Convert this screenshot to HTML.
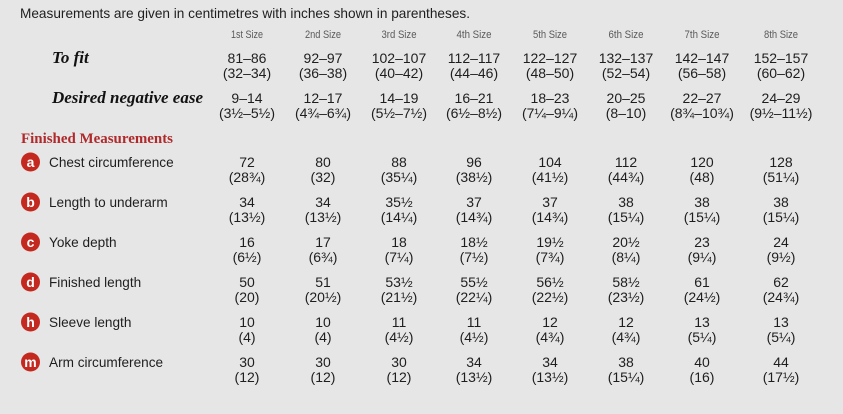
<!DOCTYPE html>
<html>
<head>
<meta charset="utf-8">
<style>
html,body{margin:0;padding:0;background:#e6e6e6;}
svg{display:block;}
.t{font-family:"Liberation Sans",Arial,sans-serif;font-size:14px;fill:#1e1e1e;}
.v{font-family:"Liberation Sans",Arial,sans-serif;font-size:14px;fill:#1e1e1e;text-anchor:middle;}
.h{font-family:"Liberation Sans",Arial,sans-serif;font-size:11px;fill:#5a5a5a;text-anchor:middle;}
.lab{font-family:"Liberation Sans",Arial,sans-serif;font-size:13.6px;fill:#1e1e1e;}
.ser{font-family:"Liberation Serif","Times New Roman",serif;font-size:17px;font-weight:bold;font-style:italic;fill:#111;}
.red{font-family:"Liberation Serif","Times New Roman",serif;font-size:15px;font-weight:bold;fill:#b02a2c;}
.ic{font-family:"Liberation Sans",Arial,sans-serif;font-size:14px;font-weight:bold;fill:#fff;text-anchor:middle;}
</style>
</head>
<body>
<svg width="843" height="414" viewBox="0 0 843 414" xmlns="http://www.w3.org/2000/svg">
<rect width="843" height="414" fill="#e6e6e6"/>
<text class="t" x="20" y="18" textLength="450" lengthAdjust="spacingAndGlyphs">Measurements are given in centimetres with inches shown in parentheses.</text>

<!-- headers -->
<g class="h">
<text x="247" y="38" textLength="32" lengthAdjust="spacingAndGlyphs">1st Size</text>
<text x="323" y="38" textLength="36" lengthAdjust="spacingAndGlyphs">2nd Size</text>
<text x="399" y="38" textLength="35" lengthAdjust="spacingAndGlyphs">3rd Size</text>
<text x="474" y="38" textLength="35" lengthAdjust="spacingAndGlyphs">4th Size</text>
<text x="550" y="38" textLength="34" lengthAdjust="spacingAndGlyphs">5th Size</text>
<text x="626" y="38" textLength="35" lengthAdjust="spacingAndGlyphs">6th Size</text>
<text x="702" y="38" textLength="35" lengthAdjust="spacingAndGlyphs">7th Size</text>
<text x="781" y="38" textLength="34" lengthAdjust="spacingAndGlyphs">8th Size</text>
</g>

<text class="ser" x="52" y="63">To fit</text>
<text class="ser" x="52" y="103" textLength="151" lengthAdjust="spacingAndGlyphs">Desired negative ease</text>

<g class="v">
<text x="247" y="63">81–86</text><text x="247" y="78">(32–34)</text>
<text x="323" y="63">92–97</text><text x="323" y="78">(36–38)</text>
<text x="399" y="63">102–107</text><text x="399" y="78">(40–42)</text>
<text x="474" y="63">112–117</text><text x="474" y="78">(44–46)</text>
<text x="550" y="63">122–127</text><text x="550" y="78">(48–50)</text>
<text x="626" y="63">132–137</text><text x="626" y="78">(52–54)</text>
<text x="702" y="63">142–147</text><text x="702" y="78">(56–58)</text>
<text x="781" y="63">152–157</text><text x="781" y="78">(60–62)</text>

<text x="247" y="103">9–14</text><text x="247" y="118">(3½–5½)</text>
<text x="323" y="103">12–17</text><text x="323" y="118">(4¾–6¾)</text>
<text x="399" y="103">14–19</text><text x="399" y="118">(5½–7½)</text>
<text x="474" y="103">16–21</text><text x="474" y="118">(6½–8½)</text>
<text x="550" y="103">18–23</text><text x="550" y="118">(7¼–9¼)</text>
<text x="626" y="103">20–25</text><text x="626" y="118">(8–10)</text>
<text x="702" y="103">22–27</text><text x="702" y="118">(8¾–10¾)</text>
<text x="781" y="103">24–29</text><text x="781" y="118">(9½–11½)</text>
</g>

<text class="red" x="21" y="143" textLength="152" lengthAdjust="spacingAndGlyphs">Finished Measurements</text>

<!-- icons -->
<g fill="#c4291f">
<circle cx="30.5" cy="162" r="9.5"/>
<circle cx="30.5" cy="202" r="9.5"/>
<circle cx="30.5" cy="242" r="9.5"/>
<circle cx="30.5" cy="282" r="9.5"/>
<circle cx="30.5" cy="322" r="9.5"/>
<circle cx="30.5" cy="362" r="9.5"/>
</g>
<g class="ic">
<text x="30.5" y="167">a</text>
<text x="30.5" y="207">b</text>
<text x="30.5" y="247">c</text>
<text x="30.5" y="287">d</text>
<text x="30.5" y="327">h</text>
<text x="30.5" y="367">m</text>
</g>

<g class="lab">
<text x="49" y="167">Chest circumference</text>
<text x="49" y="207">Length to underarm</text>
<text x="49" y="247">Yoke depth</text>
<text x="49" y="287">Finished length</text>
<text x="49" y="327">Sleeve length</text>
<text x="49" y="367">Arm circumference</text>
</g>

<g class="v">
<!-- a -->
<text x="247" y="167">72</text><text x="247" y="182">(28¾)</text>
<text x="323" y="167">80</text><text x="323" y="182">(32)</text>
<text x="399" y="167">88</text><text x="399" y="182">(35¼)</text>
<text x="474" y="167">96</text><text x="474" y="182">(38½)</text>
<text x="550" y="167">104</text><text x="550" y="182">(41½)</text>
<text x="626" y="167">112</text><text x="626" y="182">(44¾)</text>
<text x="702" y="167">120</text><text x="702" y="182">(48)</text>
<text x="781" y="167">128</text><text x="781" y="182">(51¼)</text>
<!-- b -->
<text x="247" y="207">34</text><text x="247" y="222">(13½)</text>
<text x="323" y="207">34</text><text x="323" y="222">(13½)</text>
<text x="399" y="207">35½</text><text x="399" y="222">(14¼)</text>
<text x="474" y="207">37</text><text x="474" y="222">(14¾)</text>
<text x="550" y="207">37</text><text x="550" y="222">(14¾)</text>
<text x="626" y="207">38</text><text x="626" y="222">(15¼)</text>
<text x="702" y="207">38</text><text x="702" y="222">(15¼)</text>
<text x="781" y="207">38</text><text x="781" y="222">(15¼)</text>
<!-- c -->
<text x="247" y="247">16</text><text x="247" y="262">(6½)</text>
<text x="323" y="247">17</text><text x="323" y="262">(6¾)</text>
<text x="399" y="247">18</text><text x="399" y="262">(7¼)</text>
<text x="474" y="247">18½</text><text x="474" y="262">(7½)</text>
<text x="550" y="247">19½</text><text x="550" y="262">(7¾)</text>
<text x="626" y="247">20½</text><text x="626" y="262">(8¼)</text>
<text x="702" y="247">23</text><text x="702" y="262">(9¼)</text>
<text x="781" y="247">24</text><text x="781" y="262">(9½)</text>
<!-- d -->
<text x="247" y="287">50</text><text x="247" y="302">(20)</text>
<text x="323" y="287">51</text><text x="323" y="302">(20½)</text>
<text x="399" y="287">53½</text><text x="399" y="302">(21½)</text>
<text x="474" y="287">55½</text><text x="474" y="302">(22¼)</text>
<text x="550" y="287">56½</text><text x="550" y="302">(22½)</text>
<text x="626" y="287">58½</text><text x="626" y="302">(23½)</text>
<text x="702" y="287">61</text><text x="702" y="302">(24½)</text>
<text x="781" y="287">62</text><text x="781" y="302">(24¾)</text>
<!-- h -->
<text x="247" y="327">10</text><text x="247" y="342">(4)</text>
<text x="323" y="327">10</text><text x="323" y="342">(4)</text>
<text x="399" y="327">11</text><text x="399" y="342">(4½)</text>
<text x="474" y="327">11</text><text x="474" y="342">(4½)</text>
<text x="550" y="327">12</text><text x="550" y="342">(4¾)</text>
<text x="626" y="327">12</text><text x="626" y="342">(4¾)</text>
<text x="702" y="327">13</text><text x="702" y="342">(5¼)</text>
<text x="781" y="327">13</text><text x="781" y="342">(5¼)</text>
<!-- m -->
<text x="247" y="367">30</text><text x="247" y="382">(12)</text>
<text x="323" y="367">30</text><text x="323" y="382">(12)</text>
<text x="399" y="367">30</text><text x="399" y="382">(12)</text>
<text x="474" y="367">34</text><text x="474" y="382">(13½)</text>
<text x="550" y="367">34</text><text x="550" y="382">(13½)</text>
<text x="626" y="367">38</text><text x="626" y="382">(15¼)</text>
<text x="702" y="367">40</text><text x="702" y="382">(16)</text>
<text x="781" y="367">44</text><text x="781" y="382">(17½)</text>
</g>
</svg>
</body>
</html>
